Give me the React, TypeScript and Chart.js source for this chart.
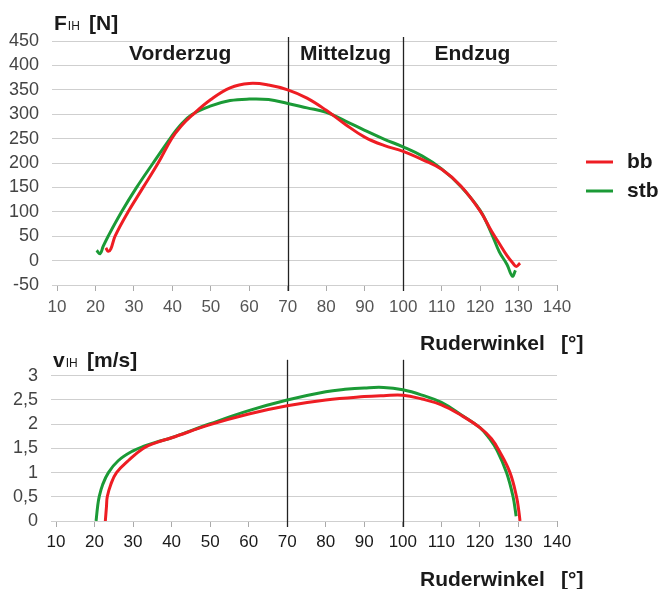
import React, { useEffect, useRef } from "react";
import { Chart, registerables } from "chart.js";

Chart.register(...registerables);

// ---------- data ----------
const phaseBoundaries = [70, 100];
const phaseLabels = ["Vorderzug", "Mittelzug", "Endzug"];
const phaseLabelAngles = [42, 85, 118];
const seriesNames = ["bb", "stb"];

const bbForceAngle = [22.7, 23.3, 24, 25.1, 28.5, 32.4, 36.3, 39.8, 42.3, 45, 50, 55, 60, 65, 70, 75, 80, 85, 90, 95, 100, 105, 110, 115, 120, 123, 125, 127, 128.5, 129.4, 130.4];
const bbForce = [26, 19, 24, 50, 100, 150, 200, 250, 276, 297, 330, 354, 363, 360, 350, 333, 308, 279, 253, 236, 224, 207, 187, 153, 102, 60, 35, 10, -5, -12, -5];

const stbForceAngle = [20.3, 21.2, 22, 23.3, 26.8, 30.7, 35, 39.4, 42, 45, 50, 55, 60, 65, 70, 75, 80, 85, 90, 95, 100, 105, 110, 115, 120, 123, 125, 127, 128.4, 129.2];
const stbForce = [21, 14, 29, 50, 100, 150, 200, 250, 277, 299, 317, 328, 331, 330, 322, 313, 304, 286, 267, 249, 233, 214, 188, 152, 103, 55, 18, -8, -32, -20];

const bbSpeedAngle = [22.8, 23.1, 23.3, 24.2, 25.7, 28.8, 32.6, 36, 40, 50, 60, 70, 80, 90, 95, 100, 105, 110, 115, 120, 123, 125, 127.8, 129.5, 130.1, 130.4];
const bbSpeed = [0, 0.3, 0.5, 0.75, 1.0, 1.25, 1.5, 1.62, 1.72, 1.99, 2.21, 2.38, 2.5, 2.57, 2.59, 2.6, 2.52, 2.4, 2.19, 1.93, 1.7, 1.45, 1.0, 0.5, 0.2, 0];

const stbSpeedAngle = [20.4, 20.8, 21.2, 22.1, 23.6, 26.2, 30, 33, 36, 40, 50, 60, 70, 80, 85, 90, 95, 100, 105, 110, 115, 120, 122.5, 124.5, 126.9, 128.6, 129.4];
const stbSpeed = [0, 0.3, 0.5, 0.75, 1.0, 1.25, 1.45, 1.55, 1.63, 1.72, 2.01, 2.28, 2.5, 2.67, 2.72, 2.75, 2.76, 2.71, 2.6, 2.45, 2.2, 1.93, 1.7, 1.45, 1.0, 0.5, 0.1];

const xMin = 10;
const xMax = 140;
const xStep = 10;
const forceMin = -50;
const forceMax = 450;
const forceStep = 50;
const speedMin = 0;
const speedMax = 3;
const speedStep = 0.5;

// ---------- styles ----------
const RED = "#ee1d23";
const GREEN = "#1b9a36";
const FONT = "'Liberation Sans', Arial, sans-serif";

const toPoints = (xs: number[], ys: number[]) => xs.map((x, i) => ({ x, y: ys[i] }));

function drawSubTitle(ctx: CanvasRenderingContext2D, x: number, base: number, main: string, sub: string, rest: string, restX: number) {
  ctx.save();
  ctx.fillStyle = "#1a1a1a";
  ctx.textBaseline = "alphabetic";
  ctx.textAlign = "left";
  ctx.font = `bold 21px ${FONT}`;
  ctx.fillText(main, x, base);
  const w = ctx.measureText(main).width;
  ctx.font = `12px ${FONT}`;
  ctx.fillText(sub, x + w + 1, base);
  ctx.font = `bold 21px ${FONT}`;
  ctx.fillText(rest, restX, base);
  ctx.restore();
}

function drawXTitle(ctx: CanvasRenderingContext2D, base: number) {
  ctx.save();
  ctx.fillStyle = "#1a1a1a";
  ctx.textBaseline = "alphabetic";
  ctx.textAlign = "left";
  ctx.font = `bold 21px ${FONT}`;
  ctx.fillText("Ruderwinkel", 420, base);
  ctx.fillText("[°]", 561, base);
  ctx.restore();
}

function makeConfig(opts: {
  kind: "force" | "speed";
  canvasTop: number;
  canvasHeight: number;
  areaTop: number;
  areaBottom: number;
  areaLeft: number;
  areaRight: number;
  lineTopExtra: number;
}) {
  const { kind, canvasTop, canvasHeight, areaTop, areaBottom, areaLeft, areaRight, lineTopExtra } = opts;
  const isForce = kind === "force";
  const datasets = isForce
    ? [
        { label: seriesNames[0], data: toPoints(bbForceAngle, bbForce), borderColor: RED },
        { label: seriesNames[1], data: toPoints(stbForceAngle, stbForce), borderColor: GREEN },
      ]
    : [
        { label: seriesNames[0], data: toPoints(bbSpeedAngle, bbSpeed), borderColor: RED },
        { label: seriesNames[1], data: toPoints(stbSpeedAngle, stbSpeed), borderColor: GREEN },
      ];

  const overlay = {
    id: "overlay" + kind,
    beforeDatasetsDraw(chart: any) {
      const { ctx, chartArea, scales } = chart;
      ctx.save();
      ctx.strokeStyle = "#222";
      ctx.lineWidth = 1.3;
      phaseBoundaries.forEach((b) => {
        const px = Math.round(scales.x.getPixelForValue(b)) + 0.5;
        ctx.beginPath();
        ctx.moveTo(px, chartArea.top - lineTopExtra);
        ctx.lineTo(px, chartArea.bottom + 6);
        ctx.stroke();
      });
      ctx.restore();
    },
    afterDraw(chart: any) {
      const { ctx, scales } = chart;
      const off = canvasTop;
      if (isForce) {
        drawSubTitle(ctx, 54, 30 - off, "F", "IH", "[N]", 89);
        ctx.save();
        ctx.fillStyle = "#1a1a1a";
        ctx.font = `bold 21px ${FONT}`;
        ctx.textAlign = "center";
        ctx.textBaseline = "alphabetic";
        phaseLabels.forEach((t, i) => {
          ctx.fillText(t, scales.x.getPixelForValue(phaseLabelAngles[i]), 60 - off);
        });
        ctx.restore();
        // legend
        ctx.save();
        const rows = [
          { name: seriesNames[0], color: RED, y: 162 },
          { name: seriesNames[1], color: GREEN, y: 191 },
        ];
        rows.forEach((r) => {
          ctx.strokeStyle = r.color;
          ctx.lineWidth = 3;
          ctx.beginPath();
          ctx.moveTo(586, r.y - off);
          ctx.lineTo(613, r.y - off);
          ctx.stroke();
          ctx.fillStyle = "#1a1a1a";
          ctx.font = `bold 21px ${FONT}`;
          ctx.textAlign = "left";
          ctx.textBaseline = "middle";
          ctx.fillText(r.name, 627, r.y - off);
        });
        ctx.restore();
        drawXTitle(ctx, 350 - off);
      } else {
        drawSubTitle(ctx, 53, 367 - off, "v", "IH", "[m/s]", 87);
        drawXTitle(ctx, 586 - off);
      }
    },
  };

  return {
    type: "line" as const,
    data: {
      datasets: datasets.map((d) => ({
        ...d,
        borderWidth: 3,
        pointRadius: 0,
        fill: false,
        tension: 0.4,
      })),
    },
    options: {
      responsive: false,
      animation: false as const,
      layout: {
        padding: { left: 0, right: 660 - areaRight, top: areaTop - canvasTop, bottom: 0 },
      },
      plugins: { legend: { display: false }, tooltip: { enabled: false }, title: { display: false } },
      scales: {
        x: {
          type: "linear" as const,
          min: xMin,
          max: xMax,
          afterFit: (s: any) => {
            s.height = canvasTop + canvasHeight - areaBottom;
          },
          ticks: {
            stepSize: xStep,
            autoSkip: false,
            color: isForce ? "#555" : "#1a1a1a",
            font: { family: FONT, size: 17 },
            padding: isForce ? 6 : 5,
            maxRotation: 0,
          },
          grid: { drawOnChartArea: false, drawTicks: true, tickLength: 6, color: "#aaa" },
          border: { display: false },
        },
        y: {
          type: "linear" as const,
          min: isForce ? forceMin : speedMin,
          max: isForce ? forceMax : speedMax,
          afterFit: (s: any) => {
            s.width = areaLeft;
          },
          ticks: {
            stepSize: isForce ? forceStep : speedStep,
            autoSkip: false,
            color: "#444",
            font: { family: FONT, size: 18 },
            padding: 13,
            callback: (v: any) => String(v).replace(".", ","),
          },
          grid: { color: "#cfcfcf", drawTicks: true, tickLength: 5, lineWidth: 1 },
          border: { display: false },
        },
      },
    },
    plugins: [overlay],
  };
}

function ChartCanvas(props: { kind: "force" | "speed"; top: number; height: number; areaTop: number; areaBottom: number; areaLeft: number; areaRight: number; lineTopExtra: number }) {
  const ref = useRef<HTMLCanvasElement | null>(null);
  useEffect(() => {
    if (!ref.current) return;
    const chart = new Chart(
      ref.current,
      makeConfig({
        kind: props.kind,
        canvasTop: props.top,
        canvasHeight: props.height,
        areaTop: props.areaTop,
        areaBottom: props.areaBottom,
        areaLeft: props.areaLeft,
        areaRight: props.areaRight,
        lineTopExtra: props.lineTopExtra,
      }) as any
    );
    return () => chart.destroy();
  }, []);
  return (
    <canvas
      ref={ref}
      width={660}
      height={props.height}
      style={{ position: "absolute", left: 0, top: props.top, width: 660, height: props.height }}
    />
  );
}

export default function App() {
  return (
    <div style={{ position: "absolute", left: 0, top: 0, width: 660, height: 589, background: "#fff", overflow: "hidden" }}>
      <ChartCanvas kind="force" top={0} height={355} areaTop={41} areaBottom={285} areaLeft={57} areaRight={557} lineTopExtra={4} />
      <ChartCanvas kind="speed" top={352} height={237} areaTop={373} areaBottom={521} areaLeft={56} areaRight={557} lineTopExtra={16} />
    </div>
  );
}
